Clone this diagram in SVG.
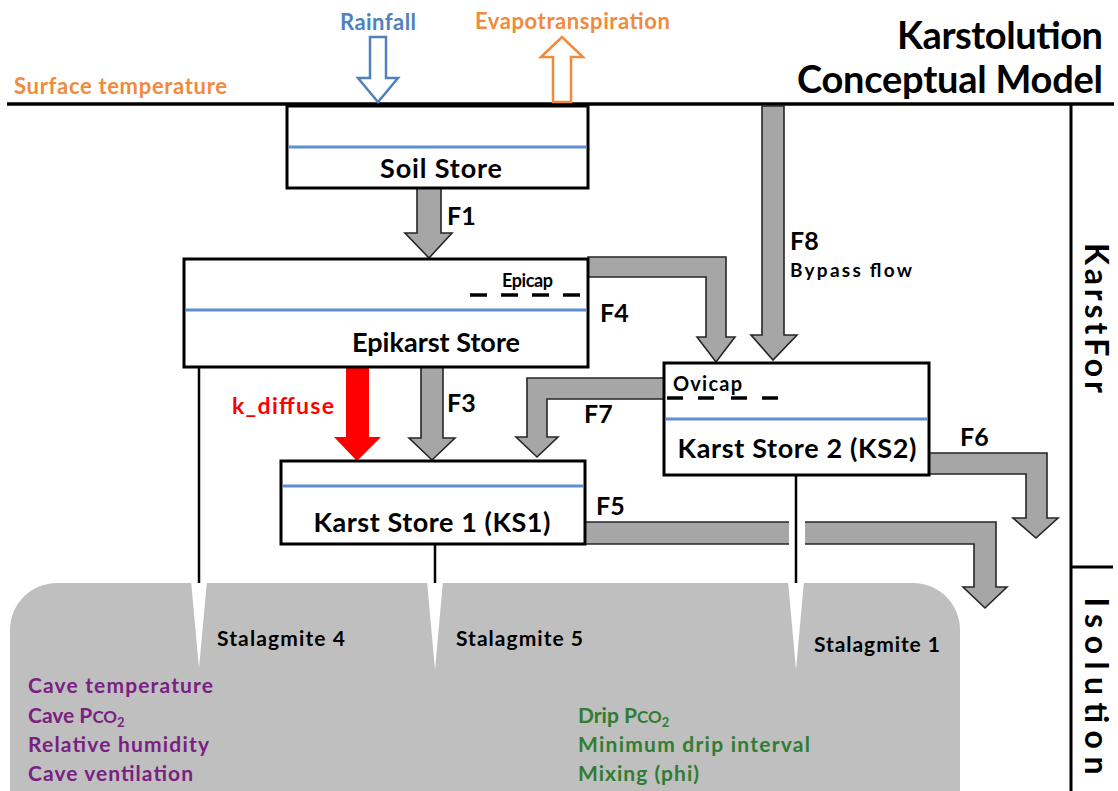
<svg xmlns="http://www.w3.org/2000/svg" width="1118" height="791" viewBox="0 0 1118 791">
<style>
text{font-family:Lato,"Open Sans","Liberation Sans",sans-serif;font-weight:bold}
.box{fill:#fff;stroke:#000;stroke-width:3}
.water{stroke:#5b8fd0;stroke-width:3}
.flow{fill:#a6a6a6;stroke:#262626;stroke-width:1.6;stroke-linejoin:miter}
.line{stroke:#000;stroke-width:2.5;fill:none}
.dash{stroke:#000;stroke-width:3.5}
.lbl{font-size:25px;fill:#000}
.store{font-size:27px;fill:#000;text-anchor:middle}
.stal{font-size:21px;fill:#000}
.purple{font-size:21px;fill:#7a2082}
.green{font-size:21px;fill:#2f7d32}
.notch{fill:#fff}
</style>
<rect width="1118" height="791" fill="#fff"/>

<!-- Cave -->
<g id="cave">
<path d="M10,791 V630 A47,47 0 0 1 57,583 H913 A47,47 0 0 1 960,630 V791 Z" fill="#bfbfbf"/>
<polygon class="notch" points="191,581 207,581 199,668"/>
<polygon class="notch" points="427,581 443,581 435,670"/>
<polygon class="notch" points="788,581 804,581 796,670"/>
<text class="stal" x="217" y="646" textLength="128">Stalagmite 4</text>
<text class="stal" x="456" y="646" textLength="127">Stalagmite 5</text>
<text class="stal" x="814" y="652" textLength="126">Stalagmite 1</text>
<text class="purple" x="28" y="693" textLength="185">Cave temperature</text>
<text class="purple" x="28" y="723">Cave P<tspan font-size="17">CO</tspan><tspan font-size="13" dy="4">2</tspan></text>
<text class="purple" x="28" y="752" textLength="181">Relative humidity</text>
<text class="purple" x="28" y="781" textLength="165">Cave ventilation</text>
<text class="green" x="578" y="752" textLength="232">Minimum drip interval</text>
<text class="green" x="578" y="723">Drip P<tspan font-size="17">CO</tspan><tspan font-size="13" dy="4">2</tspan></text>
<text class="green" x="578" y="781" textLength="121">Mixing (phi)</text>
</g>

<!-- Frame -->
<g id="frame">
<line x1="7" y1="104" x2="1114" y2="104" stroke="#000" stroke-width="3.5"/>
<line x1="1071" y1="104" x2="1071" y2="791" stroke="#000" stroke-width="3"/>
<line x1="1071" y1="567" x2="1113" y2="567" stroke="#000" stroke-width="3"/>
<text x="1103" y="49" font-size="38" text-anchor="end" fill="#000" textLength="206">Karstolution</text>
<text x="1103" y="93" font-size="38" text-anchor="end" fill="#000" textLength="306">Conceptual Model</text>
<text transform="translate(1085,318) rotate(90)" font-size="32" text-anchor="middle" fill="#000" textLength="150">KarstFor</text>
<text transform="translate(1085,686) rotate(90)" font-size="32" text-anchor="middle" fill="#000" textLength="177">Isolution</text>
<text x="14" y="94" font-size="22" fill="#f08a3c" textLength="213">Surface temperature</text>
<text x="378" y="30" font-size="22" fill="#4f81bd" text-anchor="middle" textLength="76">Rainfall</text>
<text x="475" y="29" font-size="22" fill="#f08a3c" textLength="195">Evapotranspiration</text>
</g>

<!-- Connectors -->
<g id="connectors">
<polygon points="370,37 386,37 386,78 398,78 378,102 358,78 370,78" fill="#fff" stroke="#4f81bd" stroke-width="2.5"/>
<polygon points="553,102 571,102 571,57 583,57 562,37 541,57 553,57" fill="#fff" stroke="#f08a3c" stroke-width="2.5"/>
<polygon class="flow" points="417,188 441,188 441,233 452,233 429,258 405,233 417,233"/>
<polygon class="flow" points="588,257 726,257 726,337 735,337 716,362 697,337 706,337 706,277 588,277"/>
<polygon class="flow" points="762,106 784,106 784,335 797,335 773,360 751,335 762,335"/>
<polygon points="346,367 369,367 369,437 381,437 357,461 334,437 346,437" fill="#ff0000"/>
<polygon class="flow" points="421,367 443,367 443,438 455,438 432,460 409,438 421,438"/>
<polygon class="flow" points="664,378 527,378 527,437 516,437 537,457 558,437 547,437 547,399 664,399"/>
<polygon class="flow" points="929,453 1047,453 1047,518 1058,518 1036,538 1013,518 1026,518 1026,474 929,474"/>
<polygon class="flow" points="585,522 996,522 996,587 1007,587 985,608 963,587 974,587 974,544 585,544"/>
<rect x="789" y="520" width="16" height="26" fill="#fff"/>
<line class="line" x1="199" y1="367" x2="199" y2="583"/>
<line class="line" x1="435" y1="544" x2="435" y2="583"/>
<line class="line" x1="796" y1="475" x2="796" y2="583"/>
<text class="lbl" x="447" y="225">F1</text>
<text class="lbl" x="600" y="322">F4</text>
<text class="lbl" x="447" y="412">F3</text>
<text class="lbl" x="584" y="423">F7</text>
<text class="lbl" x="596" y="515">F5</text>
<text class="lbl" x="960" y="446">F6</text>
<text class="lbl" x="790" y="250">F8</text>
<text x="790" y="277" font-size="19" fill="#000" textLength="122">Bypass flow</text>
<text x="232" y="414" font-size="23" fill="#ff0000" textLength="102">k_diffuse</text>
</g>

<!-- Nodes -->
<g id="soil-store">
<rect class="box" x="287" y="106" width="301" height="82"/>
<line class="water" x1="289" y1="147" x2="586" y2="147"/>
<text class="store" x="441" y="178" textLength="122">Soil Store</text>
</g>
<g id="epikarst-store">
<rect class="box" x="184" y="259" width="404" height="108"/>
<line class="water" x1="186" y1="310" x2="586" y2="310"/>
<text x="502" y="287" font-size="18" fill="#000" textLength="51">Epicap</text>
<line class="dash" x1="470" y1="295" x2="487" y2="295"/>
<line class="dash" x1="501" y1="295" x2="518" y2="295"/>
<line class="dash" x1="532" y1="295" x2="549" y2="295"/>
<line class="dash" x1="563" y1="295" x2="580" y2="295"/>
<text class="store" x="436" y="352" textLength="168">Epikarst Store</text>
</g>
<g id="karst-store-2">
<rect class="box" x="664" y="363" width="265" height="112"/>
<line class="water" x1="666" y1="419" x2="927" y2="419"/>
<text x="673" y="391" font-size="20" fill="#000" textLength="69">Ovicap</text>
<line class="dash" x1="667" y1="398" x2="683" y2="398"/>
<line class="dash" x1="698" y1="398" x2="714" y2="398"/>
<line class="dash" x1="731" y1="398" x2="747" y2="398"/>
<line class="dash" x1="762" y1="398" x2="778" y2="398"/>
<text class="store" x="797" y="458" textLength="239">Karst Store 2 (KS2)</text>
</g>
<g id="karst-store-1">
<rect class="box" x="281" y="461" width="304" height="83"/>
<line class="water" x1="283" y1="486" x2="583" y2="486"/>
<text class="store" x="432" y="532" textLength="237">Karst Store 1 (KS1)</text>
</g>
</svg>
